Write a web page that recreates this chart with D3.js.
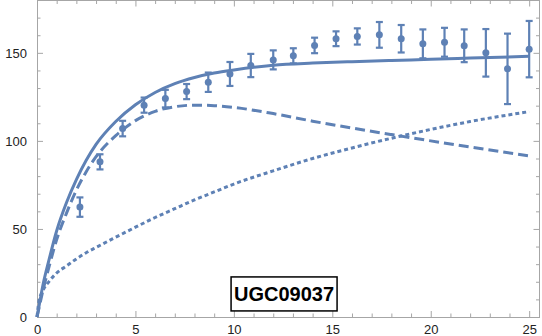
<!DOCTYPE html>
<html>
<head>
<meta charset="utf-8">
<script src="https://cdn.jsdelivr.net/npm/d3@7"></script>
<style>
  body { margin: 0; background: #fff; }
  svg { display: block; }
</style>
</head>
<body>
<div id="chart"></div>
<script>
const width = 542;
const height = 336;
const margin = {top: 0, right: 2, bottom: 19, left: 37};

// observed rotation curve
const radius = [2.18, 3.2, 4.35, 5.44, 6.52, 7.6, 8.7, 9.8, 10.86, 12.0, 13.02, 14.1,
    15.19, 16.27, 17.39, 18.5, 19.6, 20.7, 21.7, 22.8, 23.9, 25.0];
const velocity = [62.4, 88.1, 107, 120.3, 124, 128, 133.3, 138, 142.8, 146, 148.3, 154.2,
    158, 159.3, 160.2, 158, 155.1, 156, 154, 150, 140.9, 152.1];
const velocityErr = [5.5, 4.3, 4.4, 4.3, 5, 4.3, 5.5, 6.8, 6.6, 5.4, 4.3, 4.4,
    4.2, 4.6, 7.3, 7.8, 8.2, 8.2, 9.3, 13.5, 20, 16];

// model curves
const modelR = [0, 0.1, 0.3, 0.6, 1, 1.5, 2, 2.5, 3, 4, 5, 6, 7, 8, 9, 10, 12, 14, 16, 18, 20, 22, 25];
const totalV = [0, 6, 18, 32, 49, 65, 78, 89, 98, 111, 120.5, 127.5, 132.5, 136, 138.5, 140.3, 143, 144.2, 145, 145.7, 146.3, 147, 148];
const diskV  = [0, 5, 15, 28, 44, 59, 72, 82.5, 91, 103, 111.5, 116.8, 119.4, 120.3, 120, 119, 115.5, 111.2, 107.3, 103.6, 100, 96.5, 91.5];
const haloV  = [0, 9, 15, 20, 25, 29, 33, 36.5, 39.5, 45.3, 51, 56.5, 61.5, 66.5, 71, 75.5, 83, 90, 96, 101.5, 106.5, 111, 116.6];

const xMajor = [0, 5, 10, 15, 20, 25];
const yMajor = [0, 50, 100, 150];
const galaxyName = "UGC09037";

const color = "#5e81b5";
const frameColor = "#a6a6a6";

const svg = d3.create("svg")
    .attr("width", width)
    .attr("height", height)
    .attr("font-family", "'Liberation Sans', Arial, sans-serif");

const x = d3.scaleLinear()
    .domain([0, 25.55])
    .range([margin.left, width - margin.right]);

const y = d3.scaleLinear()
    .domain([0, 180])
    .range([height - margin.bottom, margin.top]);

const x0 = x.range()[0], x1 = x.range()[1];
const y0 = y.range()[0], y1 = y.range()[1];

// frame
svg.append("rect")
    .attr("x", x0 + 0.5)
    .attr("y", y1 + 0.5)
    .attr("width", x1 - x0 - 1)
    .attr("height", y0 - y1)
    .attr("fill", "none")
    .attr("stroke", frameColor);

function styleAxis(g) {
    g.select(".domain").remove();
    g.selectAll(".tick line").attr("stroke", frameColor);
    g.selectAll(".tick text")
        .attr("fill", "#222")
        .attr("font-size", "13px");
}

const xMinor = d3.range(0, 26).filter(v => v % 5 !== 0);
const yMinor = d3.range(0, 180, 10).filter(v => v % 50 !== 0);

// bottom
svg.append("g")
    .attr("transform", `translate(0,${y0})`)
    .call(d3.axisBottom(x).tickValues(xMajor).tickSize(-6).tickPadding(8))
    .call(styleAxis);
svg.append("g")
    .attr("transform", `translate(0,${y0})`)
    .call(d3.axisBottom(x).tickValues(xMinor).tickSize(-3.5).tickFormat(""))
    .call(styleAxis);
// top
svg.append("g")
    .attr("transform", `translate(0,${y1 + 0.5})`)
    .call(d3.axisTop(x).tickValues(xMajor).tickSize(-6).tickFormat(""))
    .call(styleAxis);
svg.append("g")
    .attr("transform", `translate(0,${y1 + 0.5})`)
    .call(d3.axisTop(x).tickValues(xMinor).tickSize(-3.5).tickFormat(""))
    .call(styleAxis);
// left
svg.append("g")
    .attr("transform", `translate(${x0},0)`)
    .call(d3.axisLeft(y).tickValues(yMajor).tickSize(-6).tickPadding(10))
    .call(styleAxis);
svg.append("g")
    .attr("transform", `translate(${x0},0)`)
    .call(d3.axisLeft(y).tickValues(yMinor).tickSize(-3.5).tickFormat(""))
    .call(styleAxis);
// right
svg.append("g")
    .attr("transform", `translate(${x1 - 0.5},0)`)
    .call(d3.axisRight(y).tickValues(yMajor).tickSize(-6).tickFormat(""))
    .call(styleAxis);
svg.append("g")
    .attr("transform", `translate(${x1 - 0.5},0)`)
    .call(d3.axisRight(y).tickValues(yMinor).tickSize(-3.5).tickFormat(""))
    .call(styleAxis);

// model curves
const line = d3.line()
    .x(d => x(d[0]))
    .y(d => y(d[1]))
    .curve(d3.curveMonotoneX);

const curves = [
    {values: haloV, dash: "4,3"},
    {values: diskV, dash: "10,5"},
    {values: totalV, dash: null}
];

svg.append("g")
    .selectAll("path")
    .data(curves)
    .join("path")
    .attr("d", c => line(d3.zip(modelR, c.values)))
    .attr("fill", "none")
    .attr("stroke", color)
    .attr("stroke-width", 3)
    .attr("stroke-dasharray", c => c.dash);

// data points with error bars
const pts = radius.map((r, i) => ({r: r, v: velocity[i], e: velocityErr[i]}));
const capW = 3.5;

const bars = svg.append("g")
    .attr("stroke", color)
    .attr("stroke-width", 2.2)
    .selectAll("g")
    .data(pts)
    .join("g");

bars.append("line")
    .attr("x1", d => x(d.r)).attr("x2", d => x(d.r))
    .attr("y1", d => y(d.v - d.e)).attr("y2", d => y(d.v + d.e));
bars.append("line")
    .attr("x1", d => x(d.r) - capW).attr("x2", d => x(d.r) + capW)
    .attr("y1", d => y(d.v + d.e)).attr("y2", d => y(d.v + d.e));
bars.append("line")
    .attr("x1", d => x(d.r) - capW).attr("x2", d => x(d.r) + capW)
    .attr("y1", d => y(d.v - d.e)).attr("y2", d => y(d.v - d.e));
bars.append("circle")
    .attr("cx", d => x(d.r))
    .attr("cy", d => y(d.v))
    .attr("r", 3.5)
    .attr("fill", color)
    .attr("stroke", "none");

// name label
const label = svg.append("g")
    .attr("transform", `translate(${x(12.55)},${y(13.1)})`);
const boxW = 106, boxH = 34;
label.append("rect")
    .attr("x", -boxW / 2)
    .attr("y", -boxH / 2)
    .attr("width", boxW)
    .attr("height", boxH)
    .attr("fill", "#fff")
    .attr("stroke", "#000")
    .attr("stroke-width", 1.5);
label.append("text")
    .attr("text-anchor", "middle")
    .attr("y", 7.5)
    .attr("font-size", "20px")
    .attr("font-weight", "bold")
    .attr("fill", "#000")
    .text(galaxyName);

d3.select("#chart").append(() => svg.node());
</script>
</body>
</html>
